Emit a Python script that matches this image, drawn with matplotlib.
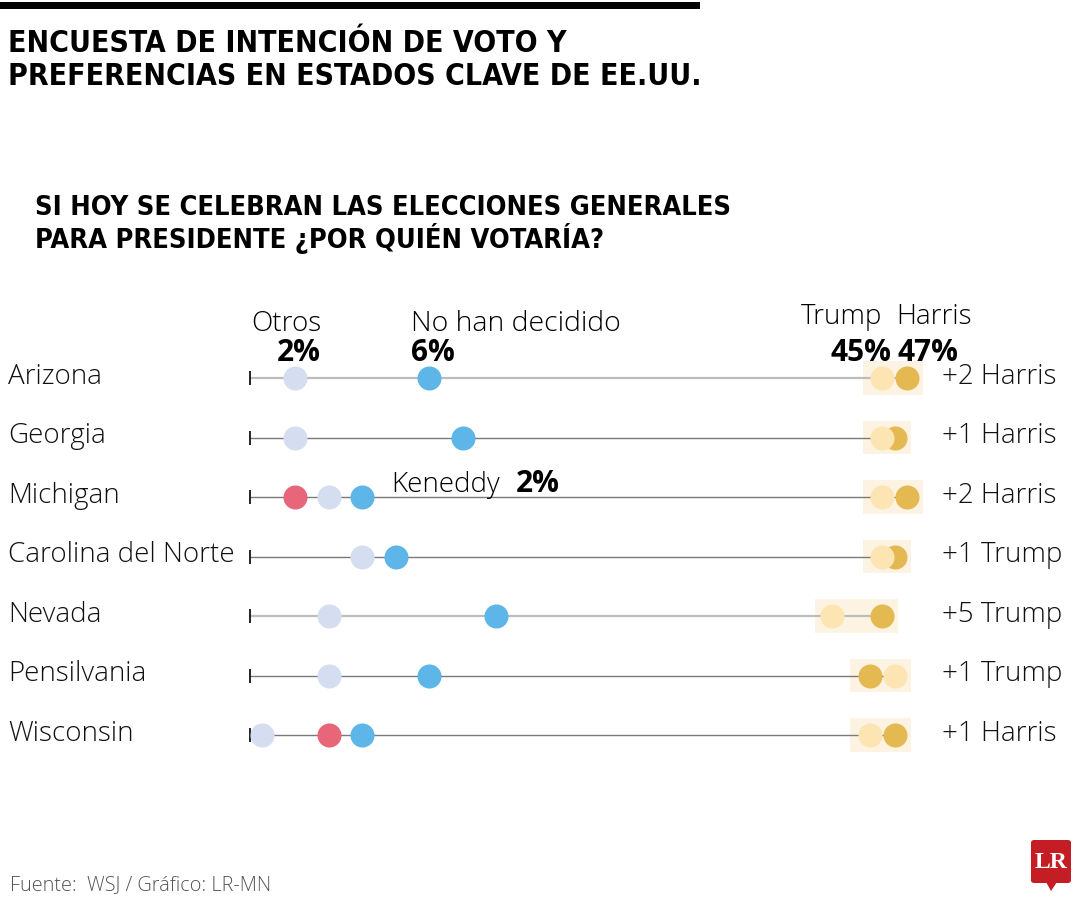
import numpy as np
import matplotlib
matplotlib.use("Agg")
import matplotlib.pyplot as plt
import matplotlib.transforms as mtransforms
from matplotlib.patches import Rectangle, FancyBboxPatch, Polygon

# datos (porcentajes)
estados = ['Arizona', 'Georgia', 'Michigan', 'Carolina del Norte',
           'Nevada', 'Pensilvania', 'Wisconsin']
otros = [2, 2, 3, 4, 3, 3, 1]
indecisos = [6, 7, 4, 5, 8, 6, 4]
kennedy = [np.nan, np.nan, 2, np.nan, np.nan, np.nan, 3]
trump = [45, 45, 45, 45, 41, 46, 44]
harris = [47, 46, 47, 46, 45, 44, 46]
margen = ['+2 Harris', '+1 Harris', '+2 Harris', '+1 Trump',
          '+5 Trump', '+1 Trump', '+1 Harris']

# colores
c_otros = '#d5def0'
c_indec = '#5db6e7'
c_kenn = '#e8667a'
c_trump = '#fde4b3'
c_harris = '#e5b952'
c_fondo = '#fdf3e3'
line_cols = ['#bdbdbd', '#7a7a7a', '#7a7a7a', '#7a7a7a', '#bdbdbd', '#7a7a7a', '#7a7a7a']
line_w = [1.6, 1.0, 1.0, 1.0, 1.6, 1.0, 1.0]

LIGHT = dict(family='Open Sans', weight='light')
BOLD = dict(family='Open Sans', weight='bold')
COND = dict(family='DejaVu Sans', stretch='condensed', weight='bold')

W, H = 1080, 900
fig = plt.figure(figsize=(W / 100, H / 100), dpi=100)
fig.patch.set_facecolor('white')


def fx(px):
    return px / W


def fy(py):
    return 1 - py / H


# escala partida: tramo izquierdo (otros/indecisos) y tramo derecho (candidatos)
kv = [0, 10, 40, 50, 60]
kp = [228, 563, 819.5, 944.5, 1069.5]


def fwd(v):
    return np.interp(v, kv, kp)


def inv(p):
    return np.interp(p, kp, kv)


ax_l, ax_r, ax_t, ax_b = 250, 960, 340, 780
ax = fig.add_axes([fx(ax_l), fy(ax_b), fx(ax_r - ax_l), (ax_b - ax_t) / H])
ax.set_xscale('function', functions=(fwd, inv))
x0 = float(inv(ax_l))
ax.set_xlim(x0, float(inv(ax_r)))
ax.set_ylim((ax_b - 378) / 59.5, (ax_t - 378) / 59.5)
ax.axis('off')

s = 300
for i in range(len(estados)):
    lo, hi = min(trump[i], harris[i]), max(trump[i], harris[i])
    ax.add_patch(Rectangle((lo - 1.55, i - 0.28), hi - lo + 2.85, 0.56,
                           facecolor=c_fondo, edgecolor='none', zorder=1))
    ax.plot([x0, hi], [i, i], color=line_cols[i], lw=line_w[i], zorder=2,
            solid_capstyle='butt')
    ax.plot([x0], [i], marker='|', color='black', ms=10, mew=1.2, zorder=3,
            clip_on=False)
    ax.scatter(otros[i], i, s=s, color=c_otros, zorder=4, linewidths=0)
    ax.scatter(indecisos[i], i, s=s, color=c_indec, zorder=4, linewidths=0)
    if not np.isnan(kennedy[i]):
        ax.scatter(kennedy[i], i, s=s, color=c_kenn, zorder=4, linewidths=0)
    ax.scatter(harris[i], i, s=s, color=c_harris, zorder=4, linewidths=0)
    ax.scatter(trump[i], i, s=s, color=c_trump, zorder=5, linewidths=0)

# etiquetas de filas
tr_rows = mtransforms.blended_transform_factory(fig.transFigure, ax.transData)
for i in range(len(estados)):
    ax.text(fx(8), i - 0.02, estados[i], transform=tr_rows, ha='left',
            va='center', fontsize=20, color='#111111', **LIGHT)
    ax.text(fx(942), i - 0.02, margen[i], transform=tr_rows, ha='left',
            va='center', fontsize=20, color='#111111', **LIGHT)

# encabezados de columnas
tr_head = mtransforms.blended_transform_factory(ax.transData, fig.transFigure)
ax.text(otros[0] - 0.25, fy(331), 'Otros', transform=tr_head, ha='center',
        va='baseline', fontsize=20, **LIGHT)
ax.text(otros[0] + 0.1, fy(361), f'{otros[0]}%', transform=tr_head, ha='center',
        va='baseline', fontsize=21.5, **BOLD)
ax.text(indecisos[0] - 0.55, fy(331), 'No han decidido', transform=tr_head,
        ha='left', va='baseline', fontsize=20.5, **LIGHT)
ax.text(indecisos[0] - 0.55, fy(361), f'{indecisos[0]}%', transform=tr_head,
        ha='left', va='baseline', fontsize=21.5, **BOLD)
ax.text(trump[0], fy(324), 'Trump', transform=tr_head, ha='right',
        va='baseline', fontsize=20, **LIGHT)
ax.text(trump[0] + 1.1, fy(324), 'Harris', transform=tr_head, ha='left',
        va='baseline', fontsize=20, **LIGHT)
ax.text(trump[0] + 0.75, fy(361), f'{trump[0]}%', transform=tr_head, ha='right',
        va='baseline', fontsize=21.5, **BOLD)
ax.text(trump[0] + 1.2, fy(361), f'{harris[0]}%', transform=tr_head, ha='left',
        va='baseline', fontsize=21.5, **BOLD)
fig.text(fx(391), fy(492), 'Keneddy', ha='left', va='baseline', fontsize=20, **LIGHT)
fig.text(fx(516), fy(492), f'{int(kennedy[2])}%', ha='left', va='baseline',
         fontsize=21.5, **BOLD)

# titulos
fig.add_artist(Rectangle((0, fy(9)), fx(700), 7 / H, transform=fig.transFigure,
                         facecolor='black', edgecolor='none'))
fig.text(fx(8), fy(52), 'ENCUESTA DE INTENCIÓN DE VOTO Y', ha='left',
         va='baseline', fontsize=21.6, **COND)
fig.text(fx(8), fy(85), 'PREFERENCIAS EN ESTADOS CLAVE DE EE.UU.', ha='left',
         va='baseline', fontsize=21.6, **COND)
fig.text(fx(35), fy(215), 'SI HOY SE CELEBRAN LAS ELECCIONES GENERALES',
         ha='left', va='baseline', fontsize=19.5, **COND)
fig.text(fx(35), fy(248), 'PARA PRESIDENTE ¿POR QUIÉN VOTARÍA?',
         ha='left', va='baseline', fontsize=19.5, **COND)

# fuente
fig.text(fx(10), fy(890), 'Fuente:  WSJ / Gráfico: LR-MN', ha='left',
         va='baseline', fontsize=14.3, color='#555555', **LIGHT)

# logo LR
fig.add_artist(FancyBboxPatch((fx(1031), fy(883)), fx(40), 43 / H,
                              boxstyle='round,pad=0,rounding_size=0.003',
                              transform=fig.transFigure, facecolor='#c41e24',
                              edgecolor='none'))
fig.add_artist(Polygon([(fx(1046), fy(882)), (fx(1057), fy(882)), (fx(1051), fy(891))],
                       closed=True, transform=fig.transFigure,
                       facecolor='#c41e24', edgecolor='none'))
fig.text(fx(1051.5), fy(862), 'LR', ha='center', va='center', fontsize=17,
         color='white', family='Liberation Serif', weight='bold')

fig.savefig('out.png', dpi=100)
